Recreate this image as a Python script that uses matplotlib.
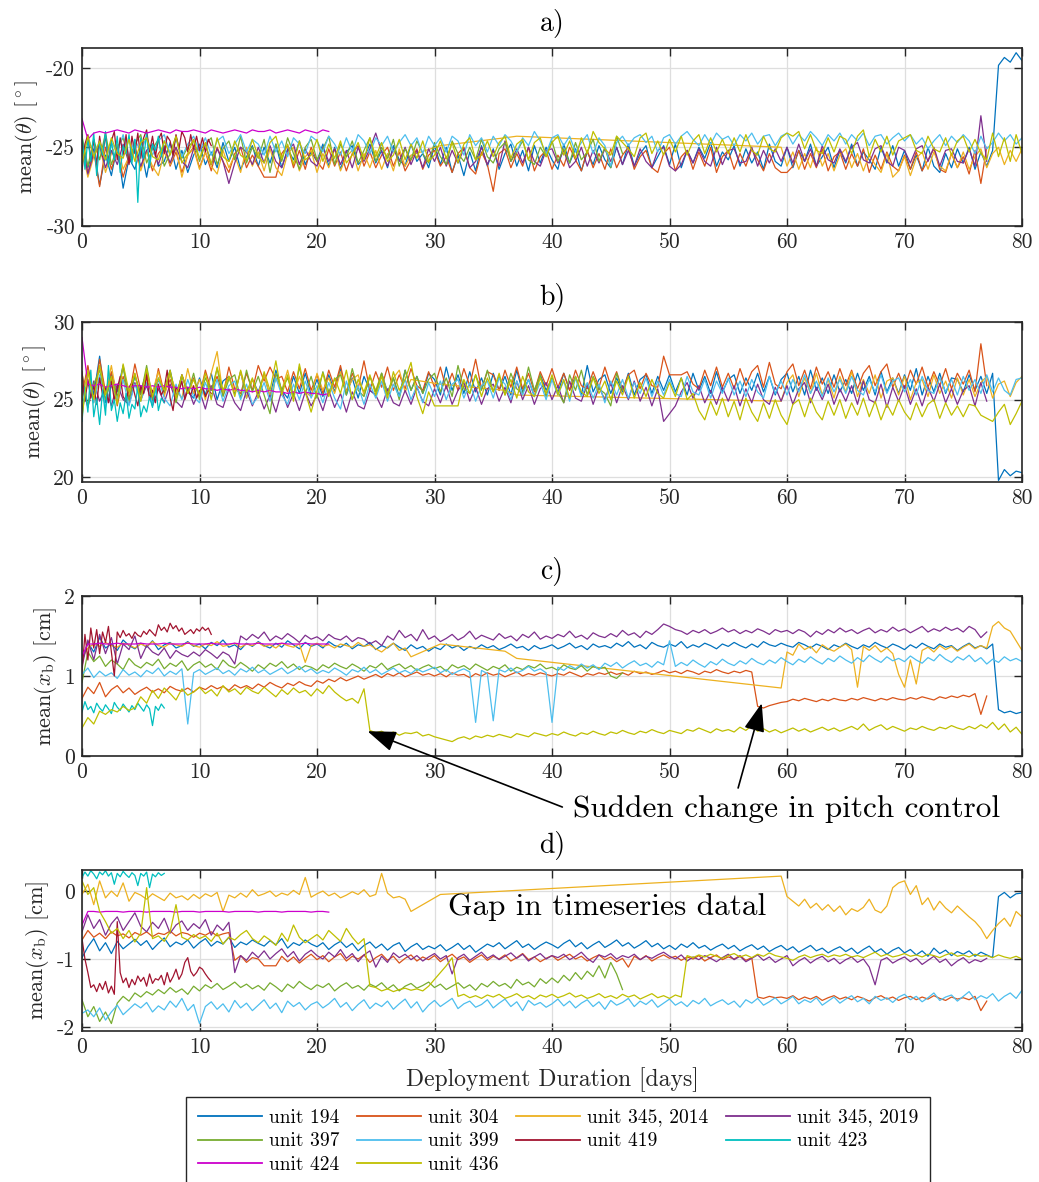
import numpy as np
import matplotlib
matplotlib.use("Agg")
import matplotlib.pyplot as plt

plt.rcParams['font.family'] = 'serif'
plt.rcParams['font.serif'] = ['cmr10']
plt.rcParams['mathtext.fontset'] = 'cm'
plt.rcParams['axes.unicode_minus'] = False

# ---------------- units / styling keys ----------------
UNITS = ['194', '304', '345a', '345b', '397', '399', '419', '423', '424', '436']
LABELS = ['unit 194', 'unit 304', 'unit 345, 2014', 'unit 345, 2019', 'unit 397',
          'unit 399', 'unit 419', 'unit 423', 'unit 424', 'unit 436']
COLORS = ['#0072BD', '#D95319', '#EDB120', '#7E2F8E', '#77AC30',
          '#4DBEEE', '#A2142F', '#00BFBF', '#CC00CC', '#BFBF00']

# deployment day of each sample (days)
DAYS = {
    '194': np.arange(0, 80.01, 0.5),
    '304': np.arange(0, 77.01, 0.5),
    '345a': np.concatenate([np.arange(0, 28.01, 0.5), [30.5, 36.0, 37.0], np.arange(59.5, 80.01, 0.5)]),
    '345b': np.arange(0, 77.01, 0.5),
    '397': np.arange(0, 46.01, 0.5),
    '399': np.arange(0, 80.01, 0.5),
    '419': np.arange(0, 11.01, 0.25),
    '423': np.arange(0, 7.01, 0.25),
    '424': np.arange(0, 21.01, 0.5),
    '436': np.arange(0, 80.01, 0.5),
}

# ---------------- panel a: mean(theta), descending [deg] ----------------
A_194 = [-24.6,-26.3,-25.1,-27.4,-25.5,-26.8,-24.9,-27.6,-25.7,-26.4,
         -25.0,-26.9,-24.8,-26.2,-25.9,-24.7,-26.4,-25.2,-26.6,-25.5,
         -24.8,-26.1,-25.3,-26.3,-24.7,-25.9,-25.0,-26.4,-25.6,-24.9,
         -26.2,-25.0,-26.0,-24.8,-26.3,-25.1,-25.8,-24.6,-26.1,-25.3,
         -25.9,-24.8,-26.2,-25.0,-26.4,-25.3,-24.9,-26.1,-25.7,-24.8,
         -26.0,-25.2,-26.3,-24.9,-25.8,-26.2,-24.8,-25.9,-25.4,-26.3,
         -24.9,-26.1,-25.0,-26.6,-25.5,-26.8,-25.3,-26.5,-24.9,-26.2,
         -25.1,-26.4,-25.4,-24.8,-26.2,-25.2,-26.5,-24.9,-26.0,-25.0,
         -25.8,-26.4,-24.8,-26.0,-25.1,-26.5,-25.3,-26.1,-24.9,-25.8,
         -26.3,-25.0,-26.1,-24.8,-26.2,-25.4,-24.9,-26.3,-25.6,-24.9,
         -26.1,-24.8,-26.3,-25.2,-26.0,-25.0,-25.7,-24.7,-26.2,-25.3,
         -25.8,-24.9,-26.2,-25.1,-26.0,-25.3,-26.4,-24.8,-25.9,-26.2,
         -25.0,-26.3,-25.2,-25.9,-24.8,-26.2,-25.6,-25.0,-26.3,-25.2,
         -26.0,-24.8,-26.2,-25.3,-25.8,-26.4,-25.0,-26.0,-24.9,-26.2,
         -25.2,-26.4,-25.5,-26.5,-25.0,-26.2,-26.6,-25.4,-26.3,-25.1,
         -26.0,-25.0,-26.4,-25.3,-26.2,-25.2,-19.8,-19.3,-19.6,-19.0,
         -19.5]
A_304 = [-24.8,-26.6,-25.3,-27.5,-25.0,-26.4,-25.2,-26.9,-25.6,-24.9,
         -26.3,-25.2,-26.5,-25.4,-24.9,-26.2,-25.3,-26.6,-25.5,-25.0,
         -26.3,-25.3,-26.5,-25.0,-25.9,-26.6,-25.4,-25.0,-26.3,-25.5,
         -26.2,-26.9,-26.9,-26.9,-25.4,-24.9,-26.3,-25.2,-26.4,-25.0,
         -25.9,-26.4,-25.1,-26.2,-25.3,-26.5,-25.4,-24.9,-26.2,-25.3,
         -26.3,-25.5,-25.0,-26.2,-25.3,-26.5,-25.8,-25.1,-26.4,-25.5,
         -25.2,-26.2,-25.6,-26.6,-25.4,-25.0,-26.3,-26.7,-25.3,-26.1,
         -27.8,-25.4,-25.1,-26.3,-25.4,-26.2,-25.0,-26.5,-25.6,-25.2,
         -26.4,-25.5,-26.2,-25.0,-25.8,-26.5,-25.2,-26.3,-25.4,-26.4,
         -25.1,-26.3,-25.5,-25.0,-26.4,-25.6,-25.2,-26.3,-26.6,-25.4,
         -25.0,-26.5,-25.6,-25.2,-26.4,-25.3,-26.2,-25.0,-26.6,-25.6,
         -25.2,-26.4,-25.4,-26.2,-25.1,-25.8,-26.5,-25.4,-26.3,-26.6,
         -26.6,-26.2,-25.2,-26.4,-25.4,-26.3,-25.1,-26.5,-25.6,-25.3,
         -26.4,-25.4,-26.2,-25.1,-26.6,-25.5,-26.4,-25.3,-26.2,-26.5,
         -25.5,-26.4,-25.3,-26.5,-25.8,-25.1,-26.4,-26.6,-25.4,-26.3,
         -25.6,-26.7,-25.2,-27.3,-25.0]
A_345_2014 = [-25.2,-26.9,-25.6,-24.9,-26.6,-25.4,-24.8,-26.4,-25.6,-25.0,
              -26.5,-25.3,-26.2,-26.8,-25.3,-26.1,-25.0,-26.9,-25.5,-25.1,
              -26.4,-25.3,-26.2,-26.7,-25.2,-26.3,-25.5,-26.6,-25.0,-26.2,
              -25.3,-26.5,-25.1,-26.3,-26.8,-25.4,-25.0,-26.5,-25.6,-25.2,
              -26.6,-25.4,-26.3,-25.1,-26.5,-25.6,-25.2,-26.5,-25.4,-26.3,
              -25.2,-26.4,-25.4,-26.5,-25.1,-26.2,-25.5,
              -24.9,-24.4,-24.3,
              -25.0,-26.2,-25.3,-26.4,-25.4,-26.3,-25.0,-26.2,-25.4,-26.5,
              -25.5,-25.1,-26.3,-25.4,-26.5,-25.5,-26.1,-26.6,-25.4,-26.9,
              -26.5,-25.6,-26.8,-25.7,-25.3,-26.4,-25.3,-26.2,-26.5,-25.4,
              -26.3,-25.3,-26.4,-25.6,-25.1,-26.3,-25.4,-25.0,-26.1,-25.2,
              -25.9,-25.1]
A_345_2019 = [-24.7,-26.7,-25.4,-24.9,-26.3,-25.2,-26.1,-24.8,-26.0,-25.1,
              -26.2,-25.2,-24.8,-26.1,-25.0,-26.0,-25.0,-25.9,-26.3,-25.1,
              -25.2,-24.8,-26.1,-25.1,-25.9,-27.3,-26.0,-25.0,-25.3,-26.1,
              -25.0,-26.0,-24.9,-25.9,-26.3,-25.2,-24.8,-26.1,-25.1,-25.9,
              -26.2,-25.0,-25.9,-25.1,-26.1,-25.2,-26.3,-25.0,-25.9,-25.1,
              -24.1,-25.3,-26.2,-25.1,-25.9,-25.0,-26.1,-25.2,-26.3,-25.1,
              -25.9,-25.0,-26.2,-25.2,-26.0,-25.1,-26.3,-25.9,-25.0,-26.1,
              -25.2,-26.2,-24.6,-25.9,-25.1,-26.0,-25.0,-25.9,-26.2,-25.2,
              -25.1,-26.0,-25.2,-26.3,-25.9,-25.0,-26.2,-25.2,-26.0,-25.1,
              -25.9,-25.0,-26.1,-25.2,-26.2,-25.1,-25.9,-26.3,-25.2,-25.0,
              -26.2,-26.5,-26.1,-25.2,-26.0,-25.1,-25.9,-26.2,-25.0,-26.1,
              -25.2,-25.1,-26.0,-25.9,-25.0,-26.2,-25.2,-26.0,-25.1,-25.9,
              -25.0,-26.0,-24.8,-25.9,-25.1,-26.2,-24.9,-25.8,-26.0,-25.1,
              -25.9,-25.0,-24.7,-25.8,-26.0,-25.1,-24.9,-25.9,-26.2,-25.0,
              -25.2,-26.0,-25.1,-24.9,-25.9,-25.0,-26.2,-25.2,-25.1,-25.9,
              -26.0,-25.1,-26.2,-23.0,-25.9]
A_397 = [-24.3,-26.2,-24.5,-25.8,-24.1,-26.1,-25.0,-24.4,-25.9,-24.8,
         -24.2,-26.0,-25.1,-24.5,-26.2,-25.4,-24.3,-25.7,-25.0,-24.6,
         -25.9,-24.8,-24.4,-26.1,-25.1,-24.6,-25.8,-24.3,-26.0,-25.0,
         -25.7,-24.5,-26.6,-24.8,-25.9,-24.4,-25.4,-26.4,-25.0,-24.5,
         -25.8,-25.1,-24.3,-26.1,-24.8,-25.6,-24.6,-26.0,-25.2,-24.4,
         -25.9,-25.0,-25.7,-24.5,-26.2,-25.1,-25.8,-24.6,-25.4,-26.0,
         -24.7,-25.6,-26.1,-24.6,-25.4,-25.9,-25.0,-25.8,-24.5,-25.6,
         -26.0,-25.1,-24.7,-25.9,-25.3,-24.6,-25.8,-26.1,-25.0,-25.6,
         -24.6,-25.9,-25.1,-26.0,-24.7,-25.8,-25.3,-24.5,-25.9,-25.0,
         -26.3,-24.3,-25.4]
A_399 = [-25.7,-24.3,-25.5,-24.6,-25.8,-24.7,-25.3,-24.2,-25.6,-24.5,
         -25.3,-24.3,-25.5,-24.6,-24.2,-25.4,-24.5,-25.6,-24.8,-24.3,
         -25.3,-24.4,-25.5,-24.6,-24.3,-25.4,-24.8,-24.2,-25.3,-24.5,
         -24.8,-25.5,-24.3,-25.3,-24.6,-25.6,-24.4,-24.8,-25.4,-24.3,
         -24.6,-25.3,-24.3,-24.8,-25.5,-24.4,-25.3,-24.2,-24.6,-25.4,
         -24.4,-24.9,-24.3,-25.3,-24.7,-24.2,-24.9,-24.4,-25.4,-24.3,
         -24.9,-24.4,-25.3,-24.3,-24.6,-25.5,-24.2,-24.9,-24.4,-25.3,
         -24.3,-24.9,-24.2,-24.6,-25.3,-24.4,-24.9,-24.0,-24.6,-25.4,
         -24.4,-24.2,-24.9,-24.3,-25.3,-24.7,-24.2,-25.4,-24.4,-24.9,
         -26.2,-24.7,-24.3,-24.9,-24.4,-24.2,-24.7,-24.3,-25.3,-24.4,
         -24.2,-24.8,-24.3,-24.0,-24.5,-24.9,-24.2,-24.8,-24.1,-24.5,
         -24.3,-24.9,-24.2,-24.6,-24.1,-24.8,-24.3,-24.2,-24.9,-24.3,
         -24.1,-24.8,-24.2,-24.6,-24.0,-24.4,-24.9,-24.2,-24.6,-24.1,
         -24.8,-24.2,-24.6,-24.1,-24.9,-24.3,-24.2,-24.8,-24.4,-24.1,
         -24.6,-24.2,-24.8,-24.4,-25.1,-24.6,-24.2,-24.9,-24.3,-24.7,
         -24.2,-24.6,-25.4,-24.3,-25.1,-24.7,-24.1,-24.6,-24.2,-24.8,
         -24.4]
A_419 = [-26.5,-24.8,-24.2,-25.9,-24.5,-26.1,-24.3,-25.6,-24.2,-26.0,
         -24.6,-24.0,-25.8,-24.4,-25.5,-24.2,-26.1,-24.3,-25.4,-24.1,
         -25.7,-24.4,-23.9,-25.3,-24.3,-25.6,-24.5,-24.1,-25.4,-24.3,
         -24.6,-25.5,-24.2,-25.1,-24.0,-24.4,-25.3,-24.2,-25.1,-24.3,
         -25.2,-24.4,-25.3,-24.5,-24.9]
A_423 = [-24.2,-26.4,-24.5,-25.9,-24.1,-26.8,-24.7,-25.5,-24.0,-26.2,
         -24.6,-25.8,-24.3,-26.6,-24.9,-25.4,-24.2,-26.0,-24.5,-28.5,
         -24.4,-25.7,-24.1,-26.3,-24.8,-25.2,-24.3,-25.6,-24.6]
A_424 = [-23.2,-24.5,-24.1,-24.0,-24.1,-24.0,-23.9,-24.0,-24.1,-23.9,
         -24.0,-24.1,-24.0,-23.9,-24.0,-24.1,-23.9,-24.0,-24.0,-23.9,
         -24.0,-24.1,-23.9,-24.0,-24.1,-24.0,-23.9,-24.0,-24.1,-23.9,
         -24.0,-24.0,-23.9,-24.1,-24.0,-23.9,-24.0,-24.1,-23.9,-24.0,
         -24.1,-23.9,-24.0]
A_436 = [-26.1,-24.3,-25.6,-24.6,-25.8,-24.4,-25.4,-25.7,-24.5,-25.9,
         -24.7,-24.4,-25.6,-25.8,-24.6,-25.5,-24.3,-26.0,-25.4,-24.5,
         -25.7,-24.7,-26.1,-24.4,-25.6,-25.9,-24.6,-25.5,-25.8,-24.5,
         -25.6,-26.0,-24.7,-24.3,-25.7,-24.8,-26.1,-24.6,-25.8,-25.5,
         -24.5,-25.9,-24.8,-25.7,-24.6,-26.0,-25.5,-24.7,-25.8,-24.4,
         -25.6,-24.7,-25.9,-25.5,-24.5,-25.8,-24.8,-25.7,-24.6,-25.9,
         -25.5,-24.6,-25.7,-24.7,-26.0,-24.8,-24.4,-25.8,-25.5,-24.6,
         -25.6,-24.7,-24.3,-25.7,-24.8,-24.5,-25.8,-24.7,-24.4,-25.6,
         -24.7,-24.3,-25.5,-24.6,-25.7,-24.4,-25.4,-24.0,-24.7,-25.1,
         -25.5,-24.3,-24.7,-25.1,-25.6,-24.4,-24.1,-25.4,-24.6,-25.5,
         -24.5,-25.3,-24.3,-25.5,-24.6,-24.2,-25.4,-24.4,-25.3,-24.5,
         -25.4,-24.4,-25.3,-24.2,-25.2,-25.5,-24.3,-25.1,-25.3,-24.4,
         -24.1,-24.3,-24.0,-25.1,-24.2,-25.2,-25.4,-24.4,-25.3,-24.3,
         -24.5,-25.4,-24.3,-23.9,-25.6,-24.5,-25.3,-24.3,-25.5,-24.6,
         -24.4,-24.2,-25.2,-25.4,-24.3,-25.1,-25.3,-24.4,-25.5,-24.6,
         -24.3,-25.3,-24.5,-25.4,-25.8,-24.1,-25.6,-24.4,-25.9,-24.2,
         -25.4]

# ---------------- panel b: mean(theta), ascending [deg] ----------------
B_194 = [25.0,27.1,25.3,27.8,24.8,26.7,25.5,27.2,25.1,26.5,
         25.4,26.8,24.9,26.3,25.6,26.9,25.2,26.6,25.5,25.1,
         26.4,25.3,26.7,25.0,26.2,26.5,25.4,26.8,25.1,26.3,
         25.5,26.6,25.2,26.9,25.6,25.1,26.5,25.4,26.7,25.3,
         26.3,25.2,26.6,25.5,27.0,25.3,26.4,25.1,26.5,25.6,
         25.3,26.7,25.5,26.4,25.2,26.9,25.6,26.5,25.4,26.7,
         26.3,25.3,27.1,25.6,26.6,25.4,26.8,25.5,26.4,25.3,
         26.7,25.6,26.5,25.3,26.9,25.5,26.3,25.2,26.6,25.6,
         26.4,25.4,26.7,25.6,26.5,25.3,27.2,25.5,26.3,26.6,
         25.4,26.4,25.5,26.7,25.3,26.3,26.6,25.4,26.5,25.6,
         26.6,25.5,26.4,25.3,26.7,25.6,26.5,25.4,26.8,25.5,
         26.3,26.6,25.4,26.4,25.6,26.7,25.5,26.5,25.3,26.3,
         26.7,25.5,26.5,25.3,26.9,25.6,26.4,25.4,26.6,25.5,
         26.3,25.4,26.7,25.6,26.5,25.3,26.8,25.5,26.4,25.4,
         26.6,25.6,27.0,25.3,26.5,25.5,26.7,25.4,26.4,26.3,
         25.5,26.6,25.6,26.5,25.4,26.7,19.8,20.5,20.1,20.4,
         20.3]
B_304 = [25.3,27.2,24.9,27.6,25.5,26.8,24.6,26.5,25.2,27.3,
         25.6,26.7,25.0,27.0,25.4,26.3,25.1,26.6,25.5,26.4,
         25.2,26.9,25.6,26.5,25.3,27.1,25.7,25.4,26.7,25.6,
         27.2,26.2,27.1,26.3,26.5,25.5,26.8,25.7,27.0,25.6,
         26.6,25.4,26.9,25.8,27.2,25.5,26.7,25.7,27.5,25.6,
         26.8,25.8,27.1,25.6,26.6,25.7,27.0,25.9,25.6,26.8,
         25.8,27.1,25.7,26.7,25.6,27.0,25.9,27.6,25.7,26.8,
         26.6,25.6,26.9,25.8,27.1,25.7,26.7,25.5,26.8,25.9,
         27.0,25.8,26.7,25.6,26.9,25.9,25.7,26.8,25.8,27.1,
         25.9,26.8,25.6,26.6,26.9,25.7,26.7,25.9,25.8,27.8,
         26.6,26.6,26.6,26.8,26.0,25.7,26.9,25.9,27.1,25.8,
         26.7,25.7,27.0,25.9,26.8,27.2,25.8,27.4,26.0,25.7,
         26.8,27.3,25.9,26.9,25.7,27.1,26.0,26.8,25.8,27.0,
         25.9,26.9,25.7,26.7,27.2,25.9,26.8,27.3,25.8,26.7,
         25.7,26.9,26.0,27.1,25.8,26.8,25.9,27.0,25.7,26.7,
         26.0,26.9,25.5,28.6,25.9]
B_345_2014 = [25.1,26.9,24.8,26.5,25.4,27.2,25.0,26.3,25.3,26.7,
              24.9,26.4,25.5,26.8,25.2,26.6,25.6,25.1,27.0,25.4,
              26.3,25.0,26.7,28.1,25.3,26.5,25.5,26.8,25.1,26.3,
              25.4,26.6,25.2,26.4,25.6,26.9,25.3,26.5,25.5,25.2,
              26.7,25.6,26.4,25.4,26.8,25.5,26.3,26.6,25.3,26.5,
              25.6,26.7,25.4,26.4,26.9,25.5,26.3,
              26.0,25.6,25.3,
              24.9,26.1,26.6,25.2,26.4,25.4,26.7,25.3,26.3,25.1,
              26.5,25.5,26.8,25.2,26.3,25.4,26.6,25.1,26.2,26.4,
              25.3,26.5,25.0,26.1,26.3,25.2,26.6,25.4,26.2,25.1,
              26.4,25.3,26.3,25.2,26.1,26.5,25.1,26.0,26.2,25.2,
              26.1,26.5]
B_345_2019 = [25.9,24.5,26.2,24.9,25.8,24.6,26.0,25.0,24.7,26.1,
              25.0,25.9,24.6,25.7,24.8,26.0,24.9,24.5,25.8,24.7,
              25.6,24.4,25.9,24.7,24.5,25.7,24.8,24.3,25.6,24.6,
              25.5,24.4,25.3,24.2,25.6,24.5,25.4,24.3,25.5,24.6,
              25.3,24.3,25.6,24.5,25.4,24.2,25.5,24.6,24.4,25.6,
              25.3,24.5,25.7,24.8,24.6,25.6,24.7,25.8,24.9,24.6,
              25.7,24.8,25.9,24.7,25.6,26.1,24.9,25.8,24.7,25.7,
              26.0,24.9,25.8,24.8,26.2,25.0,25.9,24.7,25.7,26.1,
              25.0,25.9,24.8,26.2,25.1,24.9,26.0,24.7,25.8,25.0,
              26.1,24.8,25.9,25.0,26.2,24.9,25.8,24.6,25.7,23.6,
              24.1,24.6,25.5,26.1,25.1,25.9,24.8,25.6,24.7,25.8,
              24.9,25.9,24.6,25.7,24.8,26.0,25.0,24.7,25.8,24.9,
              25.9,24.7,25.7,26.1,24.8,25.8,25.0,26.0,24.7,25.7,
              24.9,25.9,24.7,26.2,25.0,24.8,26.0,24.5,25.8,24.9,
              25.9,24.7,25.7,24.6,25.8,24.9,26.0,24.8,25.7,24.7,
              25.6,25.9,24.6,26.1,24.9]
B_397 = [26.7,24.6,26.0,26.9,25.0,26.4,25.2,27.1,24.9,26.6,
         25.3,27.2,25.1,26.3,25.5,26.8,24.8,26.5,25.4,26.7,
         25.0,26.4,25.6,27.0,25.2,26.3,26.6,25.1,26.9,25.5,
         26.5,25.3,24.1,26.7,25.6,26.4,25.2,27.1,25.4,26.5,
         25.1,26.8,25.5,26.3,26.6,25.3,27.0,25.6,25.2,26.5,
         25.5,26.7,25.3,26.4,25.0,26.9,25.6,26.5,25.4,26.3,
         26.7,25.5,26.4,25.2,27.2,25.7,25.4,26.6,25.6,26.9,
         25.5,26.5,25.3,26.7,25.7,25.4,27.1,25.6,26.6,25.2,
         26.4,25.5,24.8,26.6,25.6,26.9,25.3,26.5,25.7,25.4,
         24.6,26.7,25.6]
B_399 = [24.3,26.2,24.8,26.6,24.5,25.9,25.0,26.3,24.6,26.0,
         24.9,26.1,24.7,26.4,25.1,24.6,26.0,25.0,26.3,25.2,
         24.8,26.1,25.1,26.3,24.9,25.9,26.2,25.0,26.0,24.7,
         25.2,26.1,24.9,26.4,25.3,24.7,26.0,25.0,26.2,25.1,
         25.9,24.8,26.1,25.1,24.4,26.2,25.0,25.9,24.7,26.0,
         25.1,26.2,24.9,26.0,25.2,26.3,25.0,25.9,24.8,26.1,
         25.2,26.2,25.0,26.0,26.3,25.1,26.1,24.9,25.9,26.2,
         25.1,26.4,26.0,25.0,26.2,25.3,26.3,25.2,26.1,25.0,
         26.3,25.3,26.2,24.9,26.4,25.2,26.1,25.1,26.0,24.8,
         26.2,25.3,26.3,25.1,26.1,25.4,26.4,25.2,26.2,25.3,
         26.3,25.4,25.2,26.5,25.5,25.3,26.3,25.1,26.2,25.4,
         26.4,25.3,26.2,25.2,26.3,25.5,25.1,26.5,25.4,26.2,
         25.3,26.3,25.5,26.6,25.4,26.2,25.2,26.4,25.5,26.3,
         25.4,26.5,25.6,25.3,26.3,25.5,26.6,25.4,26.2,26.4,
         25.5,26.3,25.3,26.5,25.6,25.4,26.4,25.5,26.3,25.3,
         26.5,25.6,26.3,25.4,26.6,25.5,26.4,25.6,25.3,26.3,
         26.4]
B_419 = [26.8,24.9,26.3,25.1,25.9,24.7,26.4,25.3,25.8,24.8,
         26.2,25.0,25.7,26.5,25.2,24.9,25.8,26.1,25.3,24.6,
         25.9,25.4,26.6,25.0,25.6,24.8,26.0,25.3,25.7,26.9,
         25.1,24.3,25.8,25.5,26.2,25.0,25.6,25.3,25.9,25.1,
         25.5,25.8,25.2,25.6,25.4]
B_423 = [23.6,25.8,24.2,26.9,23.9,25.1,23.4,25.6,24.0,27.2,
         24.3,25.0,23.6,24.8,24.1,25.4,23.8,24.7,24.4,25.9,
         23.9,24.6,24.2,25.2,24.5,26.0,24.3,25.1,24.8]
B_424 = [29.0,26.0,25.9,26.0,25.8,25.9,26.0,25.9,25.8,25.9,
         25.9,25.8,25.9,25.8,25.9,25.8,25.8,25.7,25.8,25.7,
         25.8,25.7,25.7,25.6,25.7,25.6,25.7,25.6,25.6,25.5,
         25.6,25.5,25.6,25.5,25.5,25.4,25.5,25.4,25.5,25.4,
         25.4,25.3,25.4]
B_436 = [23.9,26.8,25.0,27.2,25.3,26.5,24.7,27.3,25.5,26.7,
         24.9,27.0,25.2,26.4,25.6,26.9,25.1,26.6,25.4,26.3,
         25.3,26.7,25.0,27.1,25.6,26.5,25.2,26.9,25.5,26.4,
         25.1,26.8,25.6,27.5,25.3,26.6,24.9,27.3,25.5,24.2,
         25.6,26.7,25.2,26.4,25.4,26.9,25.0,26.3,25.5,26.6,
         25.3,26.5,25.1,26.8,25.6,26.3,27.4,25.2,24.1,25.5,
         24.6,24.6,24.6,24.6,24.6,26.3,25.4,26.6,25.2,26.4,
         25.5,26.7,25.3,26.3,25.1,26.5,25.5,25.2,26.4,25.4,
         26.6,25.3,26.3,25.1,26.5,25.5,25.2,26.4,25.4,26.2,
         25.0,26.2,25.3,26.5,25.1,26.1,25.2,26.3,25.4,25.1,
         26.1,25.2,26.4,25.0,25.4,24.3,23.7,24.9,24.0,25.1,
         23.9,24.9,23.7,25.1,24.2,23.6,24.8,23.8,25.0,24.0,
         23.4,24.7,25.0,23.9,25.1,24.2,23.7,24.9,24.0,25.0,
         23.8,24.8,24.0,25.1,23.9,24.9,23.7,24.7,24.0,25.0,
         24.2,23.7,24.8,23.9,24.7,25.0,23.8,24.8,24.0,24.6,
         23.9,24.7,24.6,24.0,23.8,23.6,24.2,24.7,23.4,24.1,
         24.9]

# ---------------- panel c: mean(x_b), descending [cm] ----------------
C_194 = [1.18,1.42,1.30,1.48,1.35,1.40,1.32,1.45,1.38,1.34,
         1.41,1.36,1.44,1.33,1.39,1.42,1.35,1.38,1.43,1.37,
         1.40,1.34,1.42,1.38,1.45,1.36,1.39,1.33,1.41,1.37,
         1.43,1.38,1.35,1.41,1.36,1.44,1.39,1.34,1.42,1.37,
         1.40,1.35,1.43,1.38,1.36,1.41,1.34,1.39,1.37,1.42,
         1.33,1.38,1.35,1.41,1.36,1.32,1.39,1.34,1.37,1.31,
         1.36,1.33,1.40,1.35,1.38,1.32,1.37,1.34,1.39,1.35,
         1.38,1.33,1.36,1.40,1.35,1.37,1.32,1.38,1.34,1.36,
         1.39,1.34,1.37,1.41,1.35,1.38,1.33,1.40,1.36,1.38,
         1.35,1.41,1.37,1.43,1.36,1.39,1.34,1.42,1.38,1.36,
         1.40,1.37,1.43,1.35,1.39,1.36,1.41,1.38,1.34,1.40,
         1.37,1.42,1.38,1.35,1.40,1.36,1.43,1.39,1.37,1.41,
         1.38,1.36,1.42,1.39,1.35,1.40,1.37,1.33,1.39,1.36,
         1.41,1.37,1.34,1.39,1.36,1.42,1.38,1.35,1.40,1.37,
         1.33,1.39,1.35,1.41,1.37,1.34,1.40,1.36,1.38,1.32,
         1.37,1.41,1.35,1.38,1.34,1.40,0.58,0.54,0.56,0.53,
         0.55]
C_304 = [0.72,0.86,0.78,0.92,0.74,0.83,0.88,0.79,0.85,0.77,
         0.82,0.86,0.80,0.84,0.79,0.87,0.83,0.81,0.85,0.80,
         0.86,0.83,0.88,0.84,0.87,0.82,0.89,0.85,0.88,0.84,
         0.90,0.86,0.92,0.88,0.85,0.91,0.88,0.93,0.89,0.87,
         0.94,0.91,0.96,0.93,0.98,0.94,0.97,1.00,0.96,0.99,
         1.02,0.98,1.03,1.00,1.04,0.99,1.02,1.05,1.01,1.03,
         1.00,1.03,0.99,1.04,1.01,1.02,0.98,1.03,1.00,1.04,
         1.01,1.03,0.99,1.02,1.05,1.00,1.03,1.01,1.04,1.02,
         1.00,1.03,1.01,1.05,1.02,0.99,1.03,1.01,1.04,1.02,
         1.05,1.02,1.04,1.01,1.06,1.03,1.05,1.02,1.04,1.07,
         1.04,1.06,1.03,1.07,1.05,1.02,1.06,1.04,1.08,1.05,
         1.03,1.06,1.04,1.07,1.05,0.62,0.60,0.63,0.65,0.67,
         0.68,0.71,0.69,0.72,0.70,0.68,0.71,0.69,0.72,0.70,
         0.69,0.72,0.70,0.73,0.71,0.69,0.72,0.70,0.73,0.71,
         0.70,0.73,0.71,0.74,0.72,0.70,0.74,0.72,0.75,0.73,
         0.76,0.74,0.78,0.52,0.75]
C_345_2014 = [1.22,1.35,1.40,1.37,1.42,1.38,1.36,1.41,1.39,1.35,
              1.40,1.37,1.43,1.38,1.36,1.41,1.39,1.37,1.42,1.38,
              1.36,1.40,1.38,1.43,1.37,1.39,1.41,1.36,1.40,1.38,
              1.42,1.37,1.39,1.35,1.41,1.38,1.36,1.40,1.17,1.38,
              1.41,1.37,1.39,1.35,1.40,1.38,1.36,1.42,1.37,1.39,
              1.34,1.30,1.36,1.41,1.32,1.35,1.24,
              1.40,1.31,1.22,
              0.85,1.30,1.26,1.40,1.33,1.37,1.29,1.39,1.34,1.31,
              1.36,1.40,1.33,0.86,1.37,1.32,1.38,1.30,1.35,1.28,
              1.02,0.86,1.20,0.90,1.32,1.36,1.30,1.38,1.33,1.37,
              1.31,1.36,1.40,1.34,1.38,1.35,1.62,1.68,1.60,1.56,
              1.44,1.32]
C_345_2019 = [1.12,1.45,1.20,1.52,1.28,1.48,1.15,1.40,1.33,1.50,
              1.22,1.38,1.30,1.26,1.35,1.22,1.32,1.27,1.24,1.30,
              1.25,1.33,1.28,1.22,1.30,1.26,1.15,1.50,1.45,1.52,
              1.47,1.55,1.44,1.50,1.46,1.53,1.48,1.42,1.51,1.46,
              1.49,1.44,1.52,1.47,1.45,1.50,1.43,1.48,1.46,1.40,
              1.44,1.38,1.50,1.45,1.57,1.48,1.52,1.44,1.58,1.46,
              1.50,1.43,1.47,1.52,1.45,1.49,1.56,1.46,1.51,1.48,
              1.45,1.53,1.47,1.50,1.44,1.52,1.48,1.55,1.46,1.50,
              1.47,1.52,1.49,1.56,1.48,1.51,1.46,1.54,1.50,1.48,
              1.53,1.49,1.57,1.51,1.54,1.48,1.56,1.52,1.58,1.65,
              1.62,1.58,1.56,1.52,1.57,1.54,1.58,1.53,1.56,1.60,
              1.55,1.58,1.53,1.57,1.54,1.59,1.56,1.52,1.58,1.55,
              1.57,1.53,1.58,1.55,1.49,1.56,1.52,1.58,1.54,1.60,
              1.55,1.58,1.53,1.57,1.60,1.54,1.58,1.55,1.61,1.56,
              1.59,1.54,1.58,1.62,1.55,1.59,1.56,1.61,1.57,1.60,
              1.55,1.62,1.58,1.48,1.55]
C_397 = [0.92,1.30,1.18,1.25,1.12,1.20,1.15,1.08,1.22,1.14,
         1.10,1.17,1.13,1.21,1.09,1.16,1.12,1.19,1.07,1.14,
         1.18,1.11,1.15,1.08,1.20,1.13,1.10,1.17,1.12,1.06,
         1.14,1.09,1.16,1.12,1.18,1.10,1.15,1.08,1.13,1.11,
         1.07,1.14,1.10,1.16,1.12,1.09,1.15,1.11,1.06,1.13,
         1.10,1.16,1.08,1.12,1.15,1.09,1.13,1.07,1.11,1.14,
         1.09,1.12,1.06,1.14,1.10,1.13,1.08,1.15,1.11,1.07,
         1.12,1.09,1.14,1.06,1.11,1.08,1.13,1.10,1.15,1.09,
         1.11,1.07,1.14,1.10,1.08,1.13,1.06,1.12,1.09,1.11,
         1.00,0.97,1.04]
C_399 = [1.02,1.10,0.98,1.06,1.00,1.04,0.97,1.08,1.01,1.05,
         0.99,1.07,1.03,1.10,1.00,1.06,1.02,1.09,0.40,1.04,
         1.08,1.02,1.06,1.10,1.03,1.07,1.01,1.09,1.05,1.11,
         1.04,1.08,1.02,1.06,1.10,1.03,1.07,1.12,1.05,1.09,
         1.03,1.07,1.04,1.10,1.06,1.01,1.08,1.05,1.11,1.04,
         1.08,1.02,1.06,1.10,1.04,1.07,1.03,1.09,1.05,1.08,
         1.11,1.04,1.08,1.02,1.06,1.09,1.05,0.42,1.07,1.03,
         0.44,1.08,1.05,1.10,1.04,1.07,1.12,1.06,1.09,1.04,
         0.42,1.11,1.07,1.13,1.09,1.15,1.10,1.14,1.08,1.16,
         1.12,1.17,1.10,1.15,1.19,1.13,1.16,1.11,1.18,1.14,
         1.44,1.12,1.17,1.13,1.20,1.15,1.11,1.18,1.14,1.21,
         1.16,1.13,1.19,1.15,1.22,1.17,1.14,1.20,1.16,1.23,
         1.18,1.14,1.21,1.17,1.24,1.19,1.15,1.22,1.18,1.25,
         1.20,1.16,1.23,1.18,1.26,1.21,1.17,1.24,1.19,1.22,
         1.18,1.25,1.20,1.16,1.23,1.19,1.27,1.21,1.17,1.24,
         1.20,1.26,1.18,1.23,1.15,1.21,1.17,1.24,1.19,1.22,
         1.18]
C_419 = [1.05,1.52,1.20,1.60,1.35,1.58,1.28,1.55,1.42,1.62,
         1.30,1.00,1.55,1.48,1.57,1.50,1.53,1.47,1.55,1.51,
         1.49,1.56,1.52,1.58,1.54,1.50,1.64,1.57,1.61,1.55,
         1.66,1.59,1.63,1.56,1.60,1.52,1.55,1.58,1.53,1.59,
         1.56,1.61,1.57,1.60,1.52]
C_423 = [0.55,0.68,0.58,0.62,0.54,0.66,0.60,0.56,0.64,0.59,
         0.53,0.67,0.61,0.57,0.65,0.60,0.55,0.63,0.58,0.66,
         0.61,0.56,0.64,0.59,0.38,0.62,0.57,0.65,0.60]
C_424 = [1.25,1.40,1.40,1.41,1.40,1.40,1.41,1.40,1.40,1.40,
         1.41,1.40,1.40,1.40,1.41,1.40,1.40,1.40,1.41,1.40,
         1.40,1.40,1.41,1.40,1.40,1.40,1.41,1.40,1.40,1.40,
         1.41,1.40,1.40,1.40,1.41,1.40,1.40,1.40,1.41,1.40,
         1.40,1.40,1.40]
C_436 = [0.35,0.48,0.40,0.56,0.52,0.58,0.55,0.62,0.57,0.60,
         0.74,0.66,0.82,0.72,0.85,0.78,0.70,0.84,0.76,0.80,
         0.86,0.78,0.83,0.75,0.88,0.80,0.84,0.77,0.86,0.81,
         0.78,0.86,0.80,0.74,0.83,0.77,0.85,0.79,0.82,0.75,
         0.84,0.78,0.88,0.80,0.74,0.69,0.72,0.66,0.84,0.32,
         0.29,0.31,0.27,0.30,0.26,0.29,0.28,0.30,0.25,0.27,
         0.24,0.22,0.20,0.18,0.22,0.24,0.21,0.25,0.23,0.26,
         0.24,0.27,0.25,0.23,0.28,0.26,0.24,0.29,0.27,0.25,
         0.28,0.26,0.30,0.27,0.25,0.29,0.27,0.31,0.28,0.26,
         0.30,0.28,0.32,0.29,0.27,0.31,0.29,0.33,0.30,0.28,
         0.32,0.30,0.28,0.33,0.31,0.35,0.32,0.29,0.34,0.31,
         0.33,0.30,0.36,0.32,0.38,0.31,0.34,0.30,0.33,0.29,
         0.32,0.35,0.31,0.34,0.30,0.33,0.36,0.32,0.35,0.31,
         0.34,0.37,0.33,0.40,0.32,0.36,0.39,0.33,0.37,0.34,
         0.31,0.35,0.33,0.37,0.34,0.32,0.36,0.34,0.38,0.35,
         0.33,0.37,0.34,0.39,0.35,0.42,0.33,0.40,0.30,0.36,
         0.27]

# ---------------- panel d: mean(x_b), ascending [cm] ----------------
D_194 = [-0.98,-0.82,-0.70,-0.88,-0.76,-0.92,-0.74,-0.85,-0.78,-0.71,
         -0.80,-0.73,-0.86,-0.77,-0.69,-0.82,-0.75,-0.79,-0.72,-0.84,
         -0.76,-0.70,-0.81,-0.74,-0.78,-0.68,-0.83,-0.75,-0.79,-0.72,
         -0.77,-0.81,-0.73,-0.79,-0.70,-0.84,-0.76,-0.80,-0.72,-0.78,
         -0.82,-0.76,-0.86,-0.79,-0.74,-0.83,-0.77,-0.88,-0.80,-0.75,
         -0.84,-0.78,-0.87,-0.80,-0.76,-0.89,-0.82,-0.77,-0.86,-0.81,
         -0.85,-0.79,-0.88,-0.83,-0.77,-0.86,-0.80,-0.90,-0.84,-0.78,
         -0.82,-0.76,-0.85,-0.79,-0.73,-0.83,-0.78,-0.86,-0.80,-0.75,
         -0.79,-0.84,-0.77,-0.72,-0.82,-0.76,-0.85,-0.79,-0.74,-0.83,
         -0.78,-0.72,-0.81,-0.76,-0.84,-0.79,-0.73,-0.82,-0.77,-0.85,
         -0.80,-0.86,-0.78,-0.83,-0.76,-0.84,-0.80,-0.87,-0.82,-0.78,
         -0.85,-0.80,-0.88,-0.83,-0.79,-0.86,-0.81,-0.89,-0.84,-0.80,
         -0.87,-0.82,-0.90,-0.85,-0.80,-0.88,-0.84,-0.91,-0.86,-0.82,
         -0.89,-0.84,-0.92,-0.86,-0.81,-0.90,-0.85,-0.93,-0.87,-0.83,
         -0.91,-0.86,-0.94,-0.88,-0.96,-0.84,-0.92,-0.87,-0.95,-0.89,
         -0.93,-0.88,-0.96,-0.90,-0.94,-0.98,-0.08,-0.02,-0.10,-0.04,
         -0.03]
D_304 = [-0.72,-0.58,-0.68,-0.62,-0.70,-0.60,-0.66,-0.63,-0.69,-0.61,
         -0.65,-0.60,-0.67,-0.62,-0.64,-0.59,-0.66,-0.61,-0.63,-0.68,
         -0.62,-0.65,-0.60,-0.66,-0.63,-0.61,-1.02,-0.95,-1.05,-0.98,
         -1.00,-1.10,-1.10,-1.10,-0.96,-1.04,-0.97,-1.06,-0.99,-0.93,
         -1.01,-0.95,-1.04,-0.97,-0.92,-1.03,-0.96,-1.00,-0.94,-1.05,
         -0.98,-0.93,-1.02,-0.96,-1.06,-0.99,-0.94,-1.03,-0.97,-1.01,
         -0.95,-1.04,-0.98,-0.93,-1.01,-0.97,-1.05,-0.99,-0.94,-1.02,
         -0.96,-1.00,-0.94,-1.03,-0.98,-0.92,-1.01,-0.97,-1.04,-0.99,
         -0.95,-1.02,-0.97,-0.93,-1.00,-0.96,-1.03,-0.98,-0.94,-1.01,
         -0.97,-1.04,-0.99,-1.12,-0.96,-1.01,-0.95,-1.03,-0.98,-0.94,
         -0.99,-0.96,-1.02,-0.97,-1.00,-0.95,-1.03,-0.98,-0.94,-1.01,
         -0.97,-1.00,-0.95,-1.02,-0.98,-1.56,-1.58,-1.55,-1.57,-1.56,
         -1.58,-1.54,-1.60,-1.56,-1.59,-1.55,-1.61,-1.57,-1.54,-1.59,
         -1.56,-1.60,-1.55,-1.58,-1.62,-1.57,-1.54,-1.59,-1.56,-1.61,
         -1.57,-1.55,-1.60,-1.56,-1.59,-1.54,-1.58,-1.61,-1.56,-1.59,
         -1.57,-1.60,-1.55,-1.76,-1.62]
D_345_2014 = [-0.05,0.10,-0.20,0.15,-0.10,0.00,-0.08,0.12,-0.15,-0.02,
              -0.06,-0.12,-0.04,-0.09,-0.14,-0.03,-0.10,-0.07,-0.13,-0.05,
              -0.11,-0.04,-0.08,-0.02,-0.30,-0.06,-0.10,-0.03,-0.09,0.02,
              -0.07,-0.04,0.00,-0.08,-0.03,-0.06,0.01,-0.05,0.20,-0.09,
              -0.04,0.00,-0.07,-0.03,-0.10,-0.06,-0.01,-0.05,0.02,-0.08,
              -0.05,0.26,-0.03,-0.10,-0.08,-0.12,-0.30,
              -0.05,0.00,0.01,
              0.22,-0.08,-0.15,-0.22,-0.12,-0.25,-0.18,-0.28,-0.20,-0.30,
              -0.22,-0.35,-0.26,-0.30,-0.24,-0.12,-0.28,-0.32,-0.22,0.05,
              0.12,0.15,-0.05,0.08,-0.20,-0.10,-0.28,-0.15,-0.25,-0.32,
              -0.22,-0.30,-0.38,-0.45,-0.55,-0.70,-0.58,-0.48,-0.40,-0.52,
              -0.30,-0.38]
D_345_2019 = [-0.60,-0.35,-0.55,-0.42,-0.65,-0.48,-0.38,-0.58,-0.45,-0.32,
              -0.52,-0.60,-0.46,-0.55,-0.40,-0.62,-0.50,-0.44,-0.58,-0.48,
              -0.55,-0.42,-0.65,-0.50,-0.58,-0.46,-1.20,-0.95,-1.02,-0.90,
              -0.98,-0.88,-1.00,-0.92,-0.85,-0.97,-0.89,-1.03,-0.93,-0.87,
              -0.95,-1.00,-0.90,-0.97,-0.86,-0.99,-0.92,-1.04,-0.94,-0.88,
              -1.12,-0.96,-1.05,-0.91,-0.98,-0.93,-1.01,-0.95,-1.03,-0.97,
              -0.92,-1.00,-0.95,-1.22,-0.98,-0.93,-1.02,-0.96,-0.90,-0.99,
              -0.94,-1.01,-0.96,-0.91,-0.99,-0.93,-1.03,-0.97,-0.92,-1.00,
              -0.95,-0.98,-0.93,-1.01,-0.96,-0.90,-0.99,-1.05,-0.94,-0.97,
              -0.92,-1.00,-0.95,-0.98,-0.93,-1.01,-0.96,-0.99,-0.94,-0.90,
              -0.96,-1.00,-0.94,-1.03,-0.97,-1.01,-0.95,-0.99,-1.04,-0.98,
              -0.93,-1.01,-0.96,-1.04,-0.99,-0.94,-1.02,-0.97,-1.05,-1.00,
              -0.95,-1.10,-1.03,-0.98,-1.06,-1.00,-0.96,-1.04,-0.99,-1.07,
              -1.01,-0.97,-1.05,-1.00,-1.12,-1.38,-1.02,-0.98,-1.06,-1.01,
              -0.97,-1.04,-0.99,-1.08,-1.02,-0.96,-1.05,-1.00,-1.10,-1.03,
              -0.98,-1.06,-1.01,-1.04,-0.99]
D_397 = [-1.60,-1.85,-1.70,-1.92,-1.78,-1.95,-1.65,-1.55,-1.62,-1.50,
         -1.56,-1.48,-1.53,-1.45,-1.51,-1.42,-1.49,-1.44,-1.52,-1.40,
         -1.47,-1.38,-1.43,-1.36,-1.45,-1.40,-1.34,-1.42,-1.37,-1.44,
         -1.39,-1.46,-1.35,-1.41,-1.48,-1.37,-1.43,-1.33,-1.40,-1.45,
         -1.38,-1.42,-1.36,-1.47,-1.40,-1.35,-1.43,-1.39,-1.46,-1.37,
         -1.41,-1.35,-1.44,-1.38,-1.47,-1.40,-1.36,-1.43,-1.39,-1.34,
         -1.42,-1.37,-1.45,-1.40,-1.35,-1.43,-1.38,-1.46,-1.36,-1.41,
         -1.33,-1.40,-1.36,-1.43,-1.30,-1.38,-1.34,-1.41,-1.29,-1.36,
         -1.28,-1.35,-1.24,-1.32,-1.20,-1.30,-1.18,-1.26,-1.10,-1.28,
         -1.05,-1.22,-1.45]
D_399 = [-1.80,-1.75,-1.85,-1.72,-1.90,-1.78,-1.68,-1.82,-1.74,-1.66,
         -1.72,-1.64,-1.78,-1.69,-1.75,-1.62,-1.71,-1.58,-1.76,-1.67,
         -1.95,-1.70,-1.63,-1.74,-1.66,-1.78,-1.61,-1.72,-1.65,-1.76,
         -1.68,-1.60,-1.73,-1.65,-1.79,-1.62,-1.70,-1.64,-1.75,-1.67,
         -1.63,-1.72,-1.66,-1.58,-1.71,-1.64,-1.76,-1.67,-1.60,-1.73,
         -1.65,-1.70,-1.62,-1.74,-1.66,-1.59,-1.72,-1.63,-1.78,-1.68,
         -1.61,-1.70,-1.64,-1.58,-1.73,-1.66,-1.62,-1.71,-1.67,-1.60,
         -1.72,-1.65,-1.59,-1.70,-1.63,-1.76,-1.61,-1.68,-1.64,-1.71,
         -1.66,-1.59,-1.69,-1.62,-1.72,-1.65,-1.60,-1.70,-1.63,-1.74,
         -1.61,-1.68,-1.64,-1.58,-1.70,-1.62,-1.67,-1.60,-1.71,-1.65,
         -1.59,-1.68,-1.63,-1.70,-1.61,-1.66,-1.58,-1.69,-1.64,-1.60,
         -1.67,-1.62,-1.71,-1.60,-1.65,-1.58,-1.68,-1.63,-1.57,-1.66,
         -1.61,-1.55,-1.66,-1.60,-1.64,-1.57,-1.68,-1.62,-1.56,-1.65,
         -1.59,-1.54,-1.63,-1.58,-1.66,-1.55,-1.61,-1.57,-1.64,-1.56,
         -1.52,-1.60,-1.55,-1.63,-1.57,-1.50,-1.61,-1.56,-1.53,-1.62,
         -1.55,-1.48,-1.60,-1.54,-1.58,-1.51,-1.62,-1.55,-1.50,-1.58,
         -1.46]
D_419 = [-0.70,-1.00,-1.20,-1.42,-1.38,-1.48,-1.36,-1.45,-1.33,-1.50,
         -1.40,-1.52,-0.45,-1.20,-1.35,-1.28,-1.42,-1.30,-1.38,-1.25,
         -1.33,-1.27,-1.40,-1.22,-1.36,-1.29,-1.31,-1.24,-1.38,-1.20,
         -1.34,-1.26,-1.15,-1.30,-1.22,-1.05,-0.98,-1.18,-1.25,-1.20,
         -1.12,-1.15,-1.22,-1.28,-1.33]
D_423 = [0.20,0.28,0.22,0.30,0.25,0.18,0.28,0.24,0.30,0.22,
         0.27,0.10,0.26,0.21,0.29,0.24,0.20,0.27,0.23,0.08,
         0.26,0.22,0.28,0.05,0.25,0.21,0.27,0.23,0.26]
D_424 = [-0.50,-0.30,-0.30,-0.31,-0.30,-0.30,-0.30,-0.31,-0.30,-0.30,
         -0.30,-0.31,-0.30,-0.30,-0.30,-0.30,-0.31,-0.30,-0.30,-0.30,
         -0.31,-0.30,-0.30,-0.30,-0.30,-0.31,-0.30,-0.30,-0.30,-0.30,
         -0.31,-0.30,-0.30,-0.30,-0.31,-0.30,-0.30,-0.30,-0.30,-0.31,
         -0.30,-0.30,-0.31]
D_436 = [0.15,-0.05,0.05,-0.30,-0.45,-0.62,-0.55,-0.70,-0.58,-0.75,
         -0.62,0.05,-0.70,-0.66,-0.74,-0.60,-0.20,-0.68,-0.72,-0.64,
         -0.70,-0.66,-0.74,-0.62,-0.78,-0.68,-0.72,-0.64,-0.58,-0.70,
         -0.76,-0.66,-0.72,-0.80,-0.62,-0.74,-0.50,-0.68,-0.76,-0.70,
         -0.64,-0.72,-0.58,-0.66,-0.74,-0.55,-0.68,-0.78,-0.70,-1.40,
         -1.42,-1.47,-1.44,-1.48,-1.45,-1.43,-1.46,-1.44,-1.47,-1.40,
         -1.30,-1.20,-1.10,-0.98,-1.55,-1.52,-1.57,-1.54,-1.58,-1.53,
         -1.56,-1.52,-1.58,-1.55,-1.51,-1.57,-1.54,-1.59,-1.53,-1.56,
         -1.52,-1.57,-1.54,-1.50,-1.56,-1.53,-1.58,-1.55,-1.51,-1.57,
         -1.54,-1.58,-1.52,-1.56,-1.53,-1.59,-1.55,-1.51,-1.57,-1.54,
         -1.58,-1.53,-1.56,-0.95,-0.98,-0.94,-0.97,-0.93,-0.96,-0.99,
         -0.95,-0.92,-0.97,-0.94,-0.98,-0.93,-0.96,-0.91,-0.95,-0.97,
         -0.99,-1.02,-0.97,-0.94,-0.98,-0.95,-0.93,-0.97,-0.94,-0.96,
         -0.93,-0.97,-0.95,-0.98,-0.94,-0.90,-0.96,-0.93,-0.97,-0.95,
         -0.92,-0.96,-0.94,-0.97,-0.93,-0.95,-0.98,-0.94,-0.91,-0.96,
         -0.94,-0.97,-0.93,-0.96,-0.95,-0.98,-0.94,-0.97,-0.99,-0.96,
         -1.00]

PANEL_A = [A_194, A_304, A_345_2014, A_345_2019, A_397, A_399, A_419, A_423, A_424, A_436]
PANEL_B = [B_194, B_304, B_345_2014, B_345_2019, B_397, B_399, B_419, B_423, B_424, B_436]
PANEL_C = [C_194, C_304, C_345_2014, C_345_2019, C_397, C_399, C_419, C_423, C_424, C_436]
PANEL_D = [D_194, D_304, D_345_2014, D_345_2019, D_397, D_399, D_419, D_423, D_424, D_436]

PANELS = [
    dict(data=PANEL_A, title='a)', ylim=(-30, -18.7), yticks=[-30, -25, -20],
         yticklabels=['-30', '-25', '-20'], ylabel=r'mean($\theta$) [$^\circ$]'),
    dict(data=PANEL_B, title='b)', ylim=(19.7, 30), yticks=[20, 25, 30],
         yticklabels=['20', '25', '30'], ylabel=r'mean($\theta$) [$^\circ$]'),
    dict(data=PANEL_C, title='c)', ylim=(0, 2), yticks=[0, 1, 2],
         yticklabels=['0', '1', '2'], ylabel=r'mean($x_{\mathrm{b}}$) [cm]'),
    dict(data=PANEL_D, title='d)', ylim=(-2.06, 0.31), yticks=[-2, -1, 0],
         yticklabels=['-2', '-1', '0'], ylabel=r'mean($x_{\mathrm{b}}$) [cm]'),
]
XTICKS = [0, 10, 20, 30, 40, 50, 60, 70, 80]

# ---------------- figure ----------------
W, H = 1039, 1182
fig = plt.figure(figsize=(W / 100, H / 100), dpi=100)
fig.patch.set_facecolor('white')
rects = [(48, 226), (322, 482), (596, 756), (870, 1031)]
left, right = 82 / W, 1022 / W
DARK = '#262626'

axes = []
handles = []
for p, (top, bot) in zip(PANELS, rects):
    ax = fig.add_axes([left, 1 - bot / H, right - left, (bot - top) / H])
    axes.append(ax)
    hs = []
    for u, vals, col in zip(UNITS, p['data'], COLORS):
        t = DAYS[u]
        n = min(len(t), len(vals))
        h, = ax.plot(t[:n], vals[:n], color=col, lw=0.9)
        hs.append(h)
    if not handles:
        handles = hs
    ax.set_xlim(0, 80)
    ax.set_ylim(*p['ylim'])
    ax.set_xticks(XTICKS)
    ax.set_xticklabels([str(v) for v in XTICKS])
    ax.set_yticks(p['yticks'])
    ax.set_yticklabels(p['yticklabels'])
    ax.grid(True, color='#dedede', lw=0.9)
    ax.set_axisbelow(True)
    ax.tick_params(direction='in', length=6, width=1.0, top=True, right=True,
                   colors=DARK, labelsize=15.5, pad=5)
    for s in ax.spines.values():
        s.set_color(DARK)
        s.set_linewidth(1.2)
    ax.set_title(p['title'], fontsize=20, pad=12, color='black')
    ax.set_ylabel(p['ylabel'], fontsize=16, color=DARK, labelpad=4)

axes[3].set_xlabel('Deployment Duration [days]', fontsize=17, color=DARK, labelpad=7)

# annotations
axc = axes[2]
arrow = dict(arrowstyle='-|>,head_length=1.1,head_width=0.4', color='black', lw=1.2,
             mutation_scale=16, shrinkA=0, shrinkB=0)
axc.annotate('', xy=(24.3, 0.31), xycoords='data', xytext=(0.511, -0.319),
             textcoords='axes fraction', arrowprops=arrow, annotation_clip=False)
axc.annotate('', xy=(57.85, 0.66), xycoords='data', xytext=(0.698, -0.20),
             textcoords='axes fraction', arrowprops=arrow, annotation_clip=False)
axc.text(0.522, -0.381, 'Sudden change in pitch control', transform=axc.transAxes,
         fontsize=22.5, ha='left', va='baseline', clip_on=False, color='black')
axes[3].text(31.15, -0.353, 'Gap in timeseries datal', fontsize=22.5,
             ha='left', va='baseline', color='black')

# legend (row-major order like the reference)
order = [0, 4, 8, 1, 5, 9, 2, 6, 3, 7]
leg = fig.legend([handles[i] for i in order], [LABELS[i] for i in order],
                 loc='upper left', bbox_to_anchor=(186 / W, 1 - 1097 / H),
                 bbox_transform=fig.transFigure, ncol=4, fontsize=14,
                 frameon=True, fancybox=False, edgecolor=DARK, framealpha=1,
                 borderpad=0.6, handlelength=3.3, handletextpad=0.36,
                 columnspacing=0.9, labelspacing=0.3, borderaxespad=0)
leg.get_frame().set_linewidth(1.0)
for ln in leg.get_lines():
    ln.set_linewidth(1.3)

fig.savefig('out.png', dpi=100)
